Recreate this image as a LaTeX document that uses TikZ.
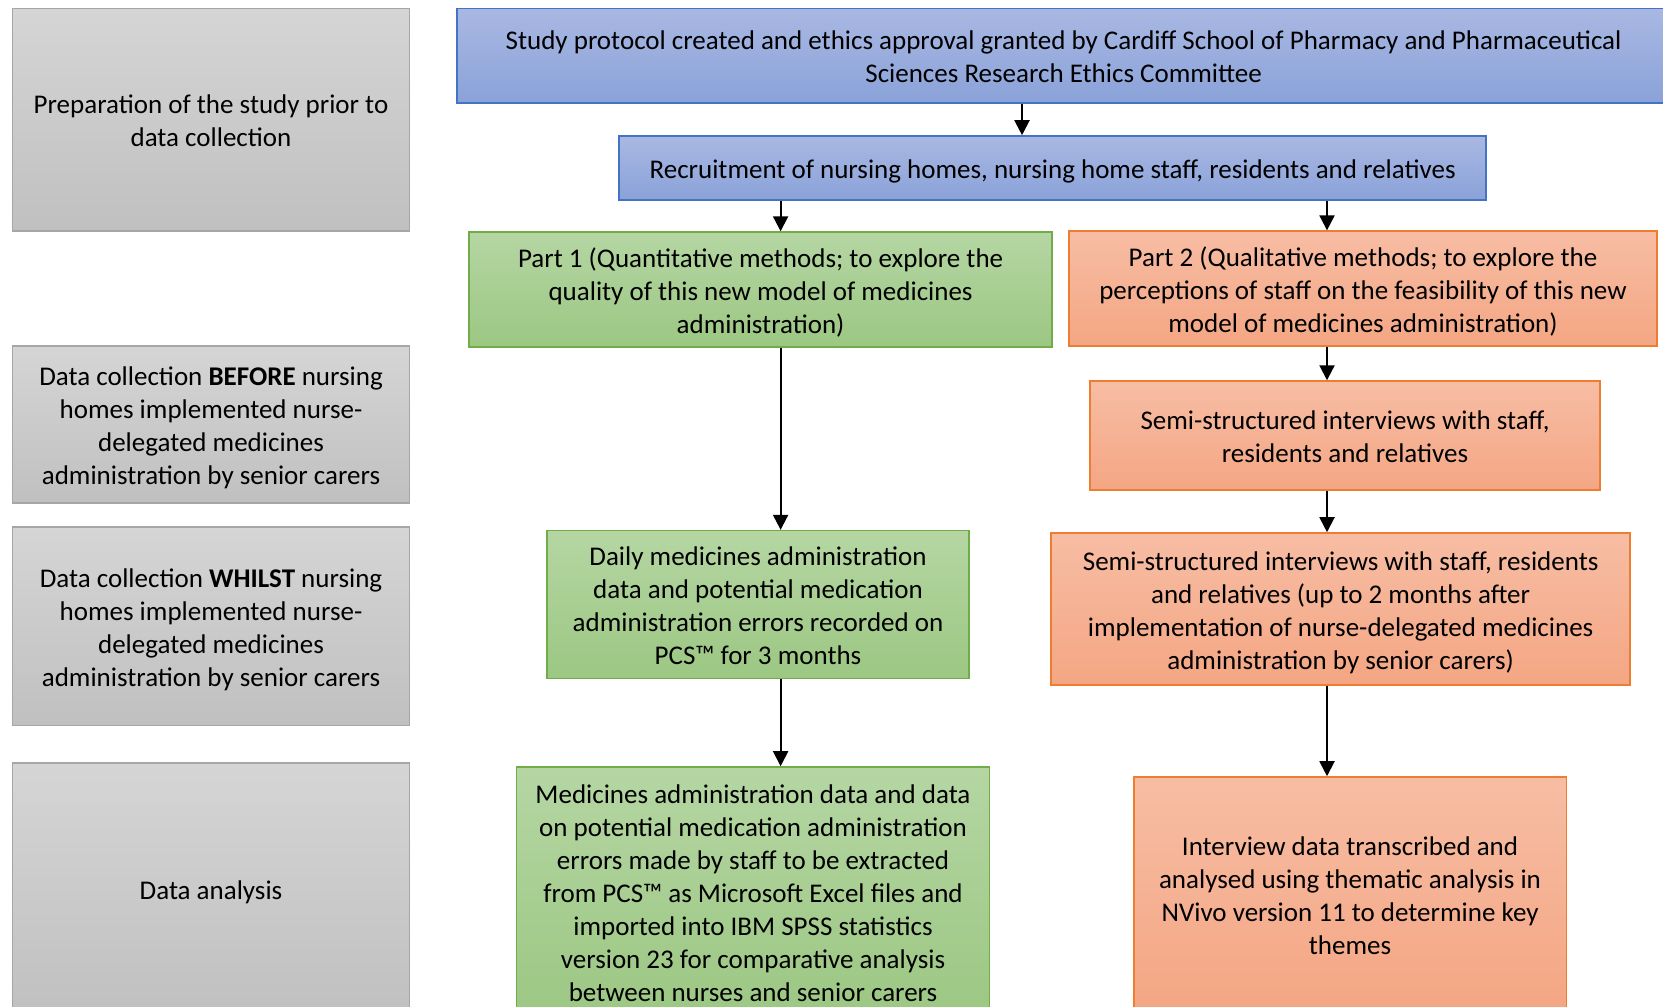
\documentclass[tikz,border=0pt]{standalone}
\usepackage{fontspec}
\setmainfont{Carlito}
\usetikzlibrary{arrows.meta}
\definecolor{grayline}{HTML}{A6A6A6}
\definecolor{graytop}{HTML}{D5D5D5}
\definecolor{graybot}{HTML}{C0C0C0}
\definecolor{blueline}{HTML}{4472C4}
\definecolor{bluetop}{HTML}{A9B8E2}
\definecolor{bluebot}{HTML}{8AA2D9}
\definecolor{greenline}{HTML}{70AD47}
\definecolor{greentop}{HTML}{B5D6A3}
\definecolor{greenbot}{HTML}{9CC783}
\definecolor{orangeline}{HTML}{ED7D31}
\definecolor{orangetop}{HTML}{F7BDA4}
\definecolor{orangebot}{HTML}{F4A683}
\newcommand{\boxlines}[1]{\begin{tabular}{@{}c@{}}\rule{0pt}{15.5pt}#1\end{tabular}}
\tikzset{box/.style={rectangle, inner sep=2pt, line width=0.8pt,
      font=\fontsize{13.5}{16.5}\selectfont},
  stagebox/.style={box, draw=grayline, top color=graytop, bottom color=graybot,
      minimum width=198.4pt},
  bluebox/.style={box, draw=blueline, top color=bluetop, bottom color=bluebot},
  greenbox/.style={box, draw=greenline, top color=greentop, bottom color=greenbot},
  orangebox/.style={box, draw=orangeline, top color=orangetop, bottom color=orangebot},
  arr/.style={-{Triangle[length=7.5pt,width=7.5pt]}, line width=1pt}}

\begin{document}
\begin{tikzpicture}[x=1pt, y=-1pt]
    \useasboundingbox (0,0) rectangle (831.5,503);
    % stages on the left
    \node[stagebox, minimum height=111.3pt] (prep) at (105.5,59.9)
      {\boxlines{Preparation of the study prior to\\data collection}};
    \node[stagebox, minimum height=78.5pt] (before) at (105.5,212.1)
      {\boxlines{Data collection \textbf{BEFORE} nursing\\homes implemented nurse-\\delegated medicines\\administration by  senior carers}};
    \node[stagebox, minimum height=99.3pt] (whilst) at (105.5,313.1)
      {\boxlines{Data collection \textbf{WHILST} nursing\\homes implemented nurse-\\delegated medicines\\administration by senior carers}};
    \node[stagebox, minimum height=126pt] (analysis) at (105.5,444.5)
      {\boxlines{Data analysis}};
    % flow
    \node[bluebox, minimum width=606.5pt, minimum height=47.3pt] (protocol) at (531.8,27.9)
      {\boxlines{Study protocol created and ethics approval granted by Cardiff School of Pharmacy and Pharmaceutical\\Sciences Research Ethics Committee}};
    \node[bluebox, minimum width=433.5pt, minimum height=32pt] (recruit) at (526.3,84)
      {\boxlines{Recruitment of nursing homes, nursing home staff, residents and relatives}};
    \node[greenbox, minimum width=291.5pt, minimum height=57.5pt] (part1) at (380.3,144.8)
      {\boxlines{Part 1 (Quantitative methods; to explore the\\quality of this new model of medicines\\administration)}};
    \node[orangebox, minimum width=294pt, minimum height=56.5pt] (part2) at (681.5,144.3)
      {\boxlines{Part 2 (Qualitative methods; to explore the\\perceptions of staff on the feasibility of this new\\model of medicines administration)}};
    \node[orangebox, minimum width=255pt, minimum height=54.5pt] (semi1) at (672.5,217.8)
      {\boxlines{Semi-structured interviews with staff,\\residents and relatives}};
    \node[greenbox, minimum width=211pt, minimum height=73.5pt] (daily) at (379,302.3)
      {\boxlines{Daily medicines administration\\data and potential medication\\administration errors recorded on\\PCS™ for 3 months}};
    \node[orangebox, minimum width=289.5pt, minimum height=76pt] (semi2) at (670.3,304.5)
      {\boxlines{Semi-structured interviews with staff, residents\\and relatives (up to 2 months after\\implementation of nurse-delegated medicines\\administration by senior carers)}};
    \node[greenbox, minimum width=236.5pt, minimum height=125pt] (extract) at (376.5,446)
      {\boxlines{Medicines administration data and data\\on potential medication administration\\errors made by staff to be extracted\\from PCS™ as Microsoft Excel files and\\imported into IBM SPSS statistics\\version 23 for comparative analysis\\between nurses and senior carers}};
    \node[orangebox, minimum width=216.3pt, minimum height=117pt] (thematic) at (675,447)
      {\boxlines{Interview data transcribed and\\analysed using thematic analysis in\\NVivo version 11 to determine key\\themes}};
    % arrow lanes
    \coordinate (midlane) at (511,0);
    \coordinate (leftlane) at (390.3,0);
    \coordinate (rightlane) at (663.5,0);
    \draw[arr] (protocol.south -| midlane) -- (recruit.north -| midlane);
    \draw[arr] (recruit.south -| leftlane) -- (part1.north -| leftlane);
    \draw[arr] (recruit.south -| rightlane) -- (part2.north -| rightlane);
    \draw[arr] (part1.south -| leftlane) -- (daily.north -| leftlane);
    \draw[arr] (part2.south -| rightlane) -- (semi1.north -| rightlane);
    \draw[arr] (semi1.south -| rightlane) -- (semi2.north -| rightlane);
    \draw[arr] (daily.south -| leftlane) -- (extract.north -| leftlane);
    \draw[arr] (semi2.south -| rightlane) -- (thematic.north -| rightlane);
  \end{tikzpicture}
\end{document}
